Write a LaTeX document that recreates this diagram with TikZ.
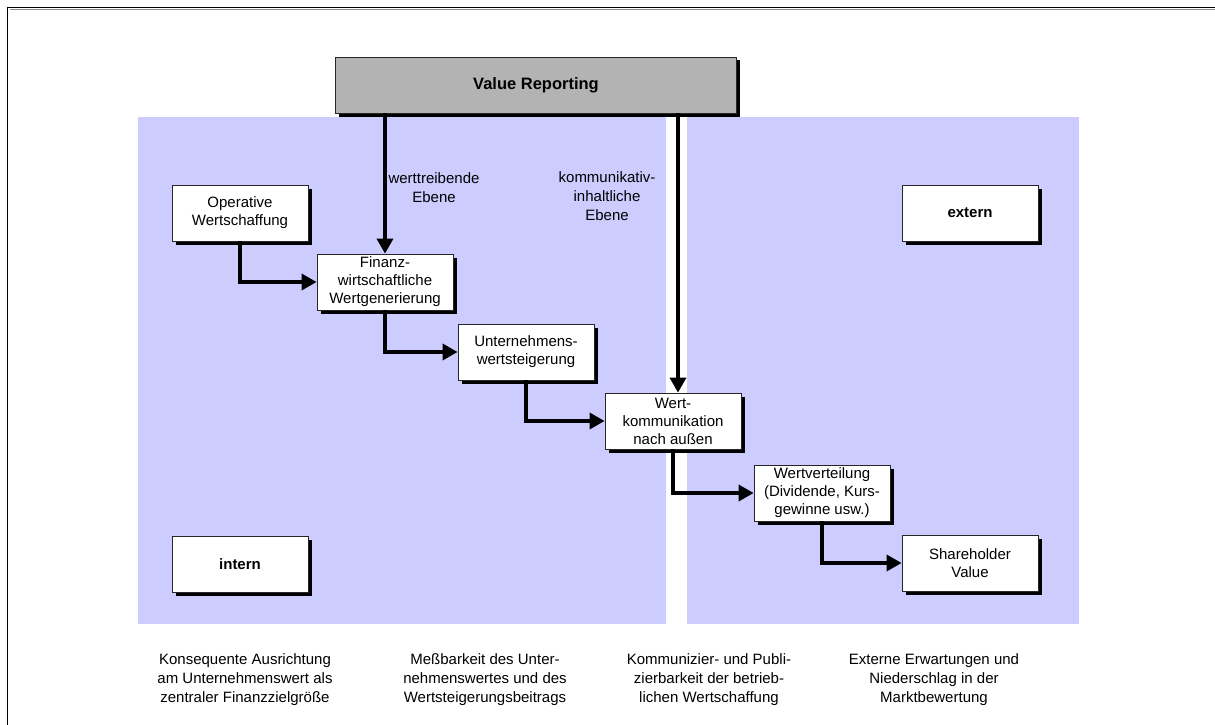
\documentclass[tikz,border=0pt]{standalone}
\usepackage{fontspec}
\setmainfont{Liberation Sans}
\usetikzlibrary{arrows.meta,shadows}
\definecolor{panelblue}{RGB}{204,204,255}
\definecolor{headgray}{RGB}{179,179,179}

\begin{document}
\begin{tikzpicture}[x=1pt,y=-1pt,
  txt/.style={align=center, font=\fontsize{15}{19}\selectfont},
  box/.style={align=center, font=\fontsize{15}{18}\selectfont,
    draw=black!85, line width=0.8pt, fill=white,
    minimum width=136pt, minimum height=56pt, inner sep=2pt,
    drop shadow={shadow xshift=3.5pt, shadow yshift=-3.5pt, fill=black, opacity=1}},
  headbox/.style={box, fill=headgray, minimum width=401pt,
    font=\fontsize{16.5}{19}\selectfont\bfseries},
  tagbox/.style={box, font=\fontsize{15}{18}\selectfont\bfseries},
  flow/.style={line width=3.5pt, -{Triangle[length=15pt,width=16pt]}},
  panel/.style={fill=panelblue, draw=none}]

% page size
\useasboundingbox (0,0) rectangle (1215,725);

% outer frame (top and left edge)
\draw[black!45, line width=1.4pt] (9.5,9.5) -- (1215,9.5);
\draw[black, line width=1.3pt] (7.5,725) -- (7.5,7.5) -- (1215,7.5);

% internal and external areas
\fill[panel] (138,117) rectangle (666,624);
\fill[panel] (687,117) rectangle (1079,624);

% header
\node[headbox] (vr) at (536,85) {Value Reporting};

% boxes
\node[box] (op) at (240,213) {Operative\\Wertschaffung};
\node[box] (fw) at (385,282) {Finanz-\\wirtschaftliche\\Wertgenerierung};
\node[box] (uw) at (526,352) {Unternehmens-\\wertsteigerung};
\node[box] (wk) at (673,421) {Wert-\\kommunikation\\nach au\ss en};
\node[box] (wv) at (822,493) {Wertverteilung\\(Dividende, Kurs-\\gewinne usw.)};
\node[box] (sh) at (970,563) {Shareholder\\Value};
\node[tagbox] (in) at (240,564) {intern};
\node[tagbox] (ex) at (970,213) {extern};

% level labels
\node[txt] (lw) at (434,188) {werttreibende\\Ebene};
\node[txt] (lk) at (607,196) {kommunikativ-\\inhaltliche\\Ebene};

% connectors from the header
\draw[flow] (vr.south -| fw.north) -- (fw.north);
\draw[flow] ([xshift=5pt]wk.north |- vr.south) -- ([xshift=5pt]wk.north);

% value chain
\draw[flow] (op.south) |- (fw.west);
\draw[flow] (fw.south) |- (uw.west);
\draw[flow] (uw.south) |- (wk.west);
\draw[flow] (wk.south) |- (wv.west);
\draw[flow] (wv.south) |- (sh.west);

% captions
\node[txt] (c1) at (245,680) {Konsequente Ausrichtung\\am Unternehmenswert als\\zentraler Finanzzielgr\"o\ss e};
\node[txt] (c2) at (485,680) {Me\ss barkeit des Unter-\\nehmenswertes und des\\Wertsteigerungsbeitrags};
\node[txt] (c3) at (709,680) {Kommunizier- und Publi-\\zierbarkeit der betrieb-\\lichen Wertschaffung};
\node[txt] (c4) at (934,680) {Externe Erwartungen und\\Niederschlag in der\\Marktbewertung};
\end{tikzpicture}
\end{document}
